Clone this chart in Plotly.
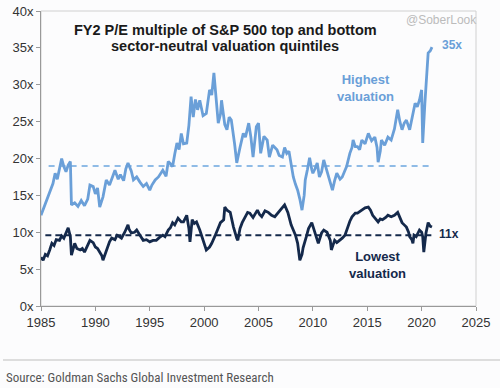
import plotly.graph_objects as go

# ---- data ----
high_years = [1985.0,1985.3,1985.6,1985.8,1986.1,1986.3,1986.5,1986.7,1986.9,1987.1,1987.3,1987.5,1987.7,1987.8,
              1988.1,1988.4,1988.7,1989.0,1989.3,1989.5,1989.8,1990.0,1990.2,1990.4,1990.7,1991.0,1991.3,1991.6,
              1991.8,1992.1,1992.3,1992.6,1992.8,1993.0,1993.3,1993.5,1993.8,1994.1,1994.4,1994.7,1995.0,1995.2,
              1995.5,1995.8,1996.0,1996.2,1996.5,1996.7,1996.9,1997.1,1997.3,1997.5,1997.7,1997.9,1998.1,1998.4,
              1998.6,1998.8,1999.0,1999.2,1999.4,1999.6,1999.9,2000.2,2000.5,2000.7,2000.9,2001.1,2001.3,2001.5,
              2001.6,2001.9,2002.1,2002.3,2002.5,2002.8,2003.0,2003.3,2003.6,2003.8,2004.1,2004.3,2004.5,2004.8,
              2005.0,2005.2,2005.5,2005.8,2006.0,2006.3,2006.7,2006.9,2007.2,2007.4,2007.6,2007.8,2008.0,2008.2,
              2008.4,2008.6,2008.8,2009.0,2009.2,2009.3,2009.5,2009.7,2009.9,2010.0,2010.2,2010.4,2010.6,2010.8,
              2011.0,2011.2,2011.4,2011.6,2011.8,2012.0,2012.2,2012.5,2012.7,2012.9,2013.1,2013.4,2013.6,2013.7,
              2013.9,2014.1,2014.3,2014.5,2014.8,2015.1,2015.4,2015.7,2015.9,2016.0,2016.2,2016.3,2016.6,2016.9,
              2017.2,2017.5,2017.8,2018.0,2018.2,2018.4,2018.6,2018.9,2019.1,2019.4,2019.6,2019.8,2020.0,2020.1,
              2020.3,2020.5,2020.6,2020.8,2020.95]
high_pe = [12.3,13.5,14.8,15.5,16.6,18.0,17.2,18.6,20.0,18.9,18.2,19.1,19.6,13.7,
           14.0,13.5,14.3,13.6,14.5,16.4,16.2,15.2,16.0,13.4,14.8,17.1,16.4,17.6,
           18.4,17.2,17.8,17.0,18.6,19.4,18.3,17.1,17.5,16.8,16.2,16.6,15.7,16.4,
           17.1,17.5,18.0,18.4,17.6,19.6,19.3,18.9,20.6,22.1,21.2,23.4,22.0,22.1,
           24.5,28.4,25.6,28.0,26.6,27.9,25.8,26.1,29.3,28.6,31.6,27.9,24.8,26.0,
           27.9,24.6,23.9,25.6,25.2,22.0,19.4,21.5,23.4,22.9,24.8,22.9,20.2,24.3,
           24.8,20.7,23.0,22.5,20.2,21.8,21.2,20.4,20.2,21.5,20.7,21.0,19.4,17.5,
           16.5,15.7,14.5,13.0,15.0,17.1,18.5,20.1,18.5,18.0,18.6,19.4,17.5,18.2,
           19.8,18.8,17.5,16.6,15.7,17.0,18.0,17.2,17.5,18.2,18.9,20.7,21.5,22.5,
           21.6,21.6,21.2,22.5,22.0,23.4,22.4,22.9,21.5,19.5,21.0,22.5,21.8,22.9,
           22.5,24.0,26.6,25.0,23.9,24.8,25.2,23.9,25.5,27.5,27.0,27.9,29.3,22.1,
           27.5,32.0,34.3,34.6,35.1]

low_years = [1985.0,1985.2,1985.4,1985.6,1985.8,1986.0,1986.2,1986.4,1986.7,1986.9,1987.1,1987.3,1987.5,1987.7,
             1987.8,1988.1,1988.3,1988.6,1988.8,1989.0,1989.3,1989.5,1989.8,1990.0,1990.2,1990.4,1990.6,1990.7,
             1990.9,1991.1,1991.3,1991.5,1991.8,1992.0,1992.2,1992.4,1992.7,1993.0,1993.1,1993.3,1993.6,1993.8,
             1994.1,1994.4,1994.7,1995.0,1995.3,1995.6,1995.9,1996.2,1996.4,1996.7,1996.9,1997.1,1997.3,1997.6,
             1997.9,1998.1,1998.4,1998.6,1998.7,1998.9,1999.1,1999.3,1999.6,1999.9,2000.0,2000.2,2000.5,2000.7,
             2001.0,2001.2,2001.5,2001.8,2001.9,2002.1,2002.4,2002.7,2002.9,2003.0,2003.1,2003.3,2003.5,2003.8,
             2004.0,2004.2,2004.5,2004.9,2005.1,2005.3,2005.6,2005.9,2006.2,2006.5,2006.8,2007.2,2007.4,2007.7,
             2008.0,2008.2,2008.4,2008.6,2008.7,2008.8,2009.0,2009.1,2009.4,2009.6,2009.9,2010.2,2010.5,2010.8,
             2011.0,2011.3,2011.6,2011.7,2012.0,2012.2,2012.5,2012.7,2012.95,2013.2,2013.4,2013.6,2013.9,2014.1,
             2014.4,2014.8,2015.1,2015.3,2015.5,2015.8,2016.0,2016.2,2016.4,2016.7,2016.9,2017.2,2017.5,2017.8,
             2018.0,2018.2,2018.4,2018.6,2018.8,2018.9,2019.1,2019.2,2019.3,2019.5,2019.7,2019.8,2020.0,2020.1,
             2020.2,2020.4,2020.6,2020.8,2020.95]
low_pe = [6.6,6.2,7.0,6.8,7.6,8.5,8.2,9.0,8.9,9.5,9.2,9.8,10.6,9.4,
          6.9,8.5,7.8,7.6,7.8,7.3,8.2,8.9,8.6,8.0,7.8,7.3,6.8,6.2,
          7.0,8.0,8.7,9.2,9.0,9.6,9.4,9.2,10.0,11.0,10.4,9.9,10.0,10.3,
          9.6,8.9,9.0,8.7,8.9,8.9,9.3,9.6,9.4,10.3,10.6,11.3,11.0,11.9,
          11.4,11.4,12.3,10.5,8.7,11.7,11.2,11.4,10.3,8.9,8.2,7.6,8.0,8.5,
          9.5,10.3,11.3,11.7,13.4,13.0,12.7,10.7,9.6,9.2,8.9,10.5,11.3,12.2,
          12.7,12.6,12.0,13.0,12.4,12.1,12.9,12.7,12.3,12.1,12.6,13.3,13.7,12.7,
          11.0,10.3,9.6,8.5,7.3,6.2,7.0,7.9,9.4,10.5,11.3,9.9,8.5,9.9,
          10.3,10.0,8.9,7.6,8.9,8.6,8.9,9.2,9.6,10.7,11.5,12.1,12.6,12.6,
          12.9,13.3,13.4,13.0,12.3,11.8,11.4,11.8,11.7,12.0,12.3,12.1,12.3,12.7,
          12.0,11.3,11.0,10.7,10.0,9.4,9.0,8.5,9.6,9.4,10.0,10.3,10.0,9.4,
          7.3,9.9,11.3,10.8,10.7]

high_avg = 19.0
low_avg = 9.6
avg_span_high = [1985.7, 2021.0]
avg_span_low = [1985.4, 2021.0]

x_ticks = [1985, 1990, 1995, 2000, 2005, 2010, 2015, 2020, 2025]
y_ticks = [0, 5, 10, 15, 20, 25, 30, 35, 40]
y_tick_labels = [f"{v}x" for v in y_ticks]

LIGHT = "#6a9fd8"
DARK = "#14294b"
BG = "#fcfcfd"

fig = go.Figure()
fig.add_trace(go.Scatter(x=avg_span_high, y=[high_avg, high_avg], mode="lines",
                         line=dict(color="#8fbbe6", width=2, dash="6px,5px"), hoverinfo="skip"))
fig.add_trace(go.Scatter(x=avg_span_low, y=[low_avg, low_avg], mode="lines",
                         line=dict(color=DARK, width=2, dash="6px,4px"), hoverinfo="skip"))
fig.add_trace(go.Scatter(x=high_years, y=high_pe, mode="lines",
                         line=dict(color=LIGHT, width=2.8)))
fig.add_trace(go.Scatter(x=low_years, y=low_pe, mode="lines",
                         line=dict(color=DARK, width=2.8)))

font_family = "Liberation Sans, Arial, sans-serif"

L, R, T, B = 41, 476, 11, 306


def px(xp):
    return (xp - L) / (R - L)


def py(yp):
    return (B - yp) / (B - T)


fig.update_layout(
    width=500, height=388,
    margin=dict(l=L, r=500 - R, t=T, b=388 - B, autoexpand=False),
    paper_bgcolor=BG, plot_bgcolor=BG,
    showlegend=False,
    font=dict(family=font_family, color="#333333", size=13),
    xaxis=dict(range=[1985, 2025], tickvals=x_ticks, ticks="outside", ticklen=4,
               tickcolor="#999999", showline=True, linecolor="#999999", linewidth=1,
               showgrid=False, zeroline=False, automargin=False,
               tickfont=dict(size=13, color="#333333")),
    yaxis=dict(range=[0, 40], tickvals=y_ticks, ticktext=y_tick_labels, ticks="outside",
               ticklen=4, tickcolor="#999999", showline=True, linecolor="#999999",
               linewidth=1, showgrid=False, zeroline=False, automargin=False,
               tickfont=dict(size=13, color="#333333")),
    shapes=[
        dict(type="rect", xref="paper", yref="paper", x0=0, x1=1, y0=0, y1=1,
             line=dict(color="#d0d0d0", width=1), layer="below"),
        dict(type="line", xref="paper", yref="paper", x0=px(3), x1=px(500),
             y0=py(360), y1=py(360), line=dict(color="#dddddd", width=2)),
    ],
    annotations=[
        dict(text="<b>FY2 P/E multiple of S&P 500 top and bottom</b>",
             xref="paper", yref="paper", x=px(225), y=py(30),
             xanchor="center", yanchor="middle", showarrow=False,
             font=dict(size=14.5, color="#1a1a1a")),
        dict(text="<b>sector-neutral valuation quintiles</b>",
             xref="paper", yref="paper", x=px(225), y=py(46),
             xanchor="center", yanchor="middle", showarrow=False,
             font=dict(size=14.5, color="#1a1a1a")),
        dict(text="@SoberLook", xref="paper", yref="paper", x=px(479),
             y=py(20), xanchor="right", yanchor="middle", showarrow=False,
             font=dict(size=12, color="#bbbbbb")),
        dict(text="<b>35x</b>", xref="paper", yref="paper", x=px(452),
             y=py(45), xanchor="center", yanchor="middle", showarrow=False,
             font=dict(size=12, color=LIGHT)),
        dict(text="<b>Highest<br>valuation</b>", xref="paper", yref="paper",
             x=px(365), y=py(88), xanchor="center", yanchor="middle",
             showarrow=False, align="center", font=dict(size=13, color=LIGHT)),
        dict(text="<b>11x</b>", xref="paper", yref="paper", x=px(449),
             y=py(234), xanchor="center", yanchor="middle", showarrow=False,
             font=dict(size=12, color=DARK)),
        dict(text="<b>Lowest<br>valuation</b>", xref="paper", yref="paper",
             x=px(377), y=py(265), xanchor="center", yanchor="middle",
             showarrow=False, align="center", font=dict(size=13, color=DARK)),
        dict(text="Source: Goldman Sachs Global Investment Research", xref="paper",
             yref="paper", x=px(4), y=py(377), xanchor="left",
             yanchor="middle", showarrow=False,
             font=dict(size=13, color="#555555",
                       family="Liberation Sans Narrow, Arial Narrow, Roboto Condensed, sans-serif")),
    ],
)

fig.write_html("out.html", config={"displayModeBar": False},
               post_script="document.body.style.margin='0px';")
